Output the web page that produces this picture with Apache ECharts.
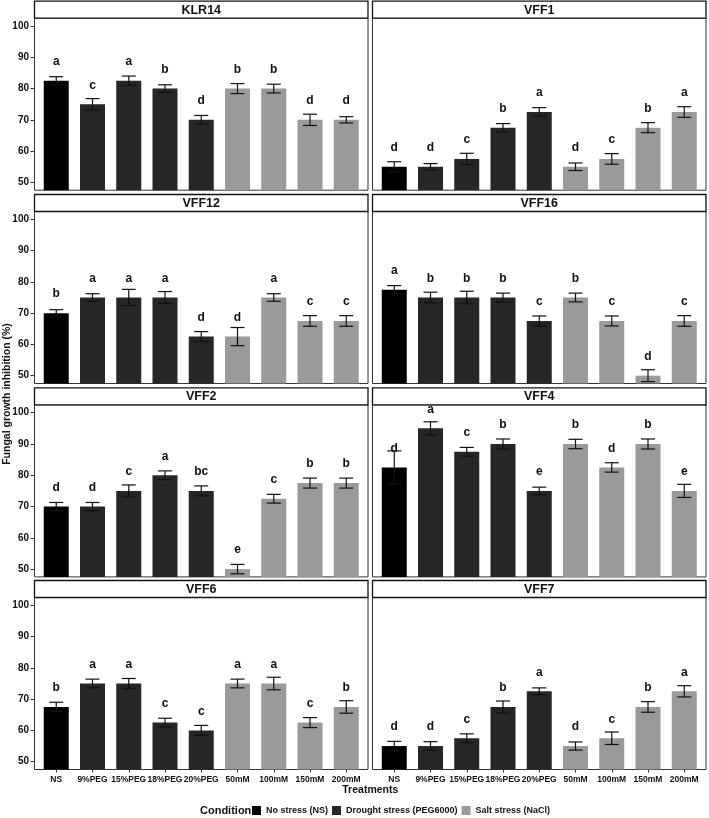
<!DOCTYPE html>
<html>
<head>
<meta charset="utf-8">
<script src="https://cdn.jsdelivr.net/npm/echarts@6/dist/echarts.min.js"></script>
<style>html,body{margin:0;padding:0;background:#fff}#c{width:709px;height:818px}</style>
</head>
<body>
<div id="c"></div>
<script>
// ---------- DATA ----------
const isolates = ['KLR14', 'VFF1', 'VFF12', 'VFF16', 'VFF2', 'VFF4', 'VFF6', 'VFF7'];
const treatments = ['NS', '9%PEG', '15%PEG', '18%PEG', '20%PEG', '50mM', '100mM', '150mM', '200mM'];
const conditions = ['No stress (NS)', 'Drought stress (PEG6000)', 'Salt stress (NaCl)'];
const treatmentCondition = [0, 1, 1, 1, 1, 2, 2, 2, 2];
const yTicks = [50, 60, 70, 80, 90, 100];

const meanKLR14 = [82.5, 75, 82.5, 80, 70, 80, 80, 70, 70];
const seKLR14   = [1.3, 1.8, 1.5, 1.2, 1.4, 1.6, 1.4, 1.8, 1.0];
const letKLR14  = ['a', 'c', 'a', 'b', 'd', 'b', 'b', 'd', 'd'];

const meanVFF1 = [55, 55, 57.5, 67.5, 72.5, 55, 57.5, 67.5, 72.5];
const seVFF1   = [1.6, 1.0, 1.8, 1.3, 1.4, 1.2, 1.7, 1.6, 1.7];
const letVFF1  = ['d', 'd', 'c', 'b', 'a', 'd', 'c', 'b', 'a'];

const meanVFF12 = [70, 75, 75, 75, 62.5, 62.5, 75, 67.5, 67.5];
const seVFF12   = [1.1, 1.2, 2.6, 1.9, 1.6, 2.9, 1.2, 1.7, 1.7];
const letVFF12  = ['b', 'a', 'a', 'a', 'd', 'd', 'a', 'c', 'c'];

const meanVFF16 = [77.5, 75, 75, 75, 67.5, 75, 67.5, 50, 67.5];
const seVFF16   = [1.3, 1.7, 2.0, 1.4, 1.6, 1.4, 1.6, 1.9, 1.7];
const letVFF16  = ['a', 'b', 'b', 'b', 'c', 'b', 'c', 'd', 'c'];

const meanVFF2 = [70, 70, 75, 80, 75, 50, 72.5, 77.5, 77.5];
const seVFF2   = [1.3, 1.3, 1.9, 1.4, 1.6, 1.5, 1.4, 1.6, 1.6];
const letVFF2  = ['d', 'd', 'c', 'a', 'bc', 'e', 'c', 'b', 'b'];

const meanVFF4 = [82.5, 95, 87.5, 90, 75, 90, 82.5, 90, 75];
const seVFF4   = [5.3, 2.1, 1.4, 1.6, 1.2, 1.5, 1.5, 1.6, 2.1];
const letVFF4  = ['d', 'a', 'c', 'b', 'e', 'b', 'd', 'b', 'e'];

const meanVFF6 = [67.5, 75, 75, 62.5, 60, 75, 75, 62.5, 67.5];
const seVFF6   = [1.5, 1.4, 1.6, 1.4, 1.6, 1.4, 2.0, 1.6, 2.0];
const letVFF6  = ['b', 'a', 'a', 'c', 'c', 'a', 'a', 'c', 'b'];

const meanVFF7 = [55, 55, 57.5, 67.5, 72.5, 55, 57.5, 67.5, 72.5];
const seVFF7   = [1.5, 1.4, 1.4, 1.9, 1.1, 1.3, 2.0, 1.7, 1.8];
const letVFF7  = ['d', 'd', 'c', 'b', 'a', 'd', 'c', 'b', 'a'];

const panelMeans = [meanKLR14, meanVFF1, meanVFF12, meanVFF16, meanVFF2, meanVFF4, meanVFF6, meanVFF7];
const panelSE = [seKLR14, seVFF1, seVFF12, seVFF16, seVFF2, seVFF4, seVFF6, seVFF7];
const panelLetters = [letKLR14, letVFF1, letVFF12, letVFF16, letVFF2, letVFF4, letVFF6, letVFF7];

// ---------- STYLE / LAYOUT ----------
const FONT = 'Liberation Sans, Arial, sans-serif';
const conditionColors = ['#000000', '#262626', '#9a9a9a'];
const colLeft = [34.5, 372.5];
const gridW = 333.5;
const rowTop = [18.2, 211.5, 404.9, 597.5];
const gridH = 172;
const stripH = 17;

const grids = [], xAxes = [], yAxes = [], series = [], graphics = [];

isolates.forEach((name, p) => {
  const row = Math.floor(p / 2), col = p % 2;
  const left = colLeft[col], top = rowTop[row];
  const bottomRow = row === 3;
  const leftCol = col === 0;
  grids.push({ left: left, top: top, width: gridW, height: gridH, show: true,
    borderColor: '#333', borderWidth: 1, backgroundColor: '#fff' });
  xAxes.push({
    gridIndex: p, type: 'value', min: -0.6, max: 8.6, position: 'bottom',
    axisLine: { show: false, onZero: false }, splitLine: { show: false },
    axisTick: { show: bottomRow, length: 3, lineStyle: { color: '#333' },
      customValues: treatments.map((t, i) => i) },
    axisLabel: { show: bottomRow, margin: 6, color: '#111', fontSize: 8.5, fontWeight: 'bold', fontFamily: FONT,
      customValues: treatments.map((t, i) => i), formatter: v => treatments[Math.round(v)] }
  });
  yAxes.push({
    gridIndex: p, type: 'value', min: 47.5, max: 102.5, position: 'left',
    axisLine: { show: false, onZero: false }, splitLine: { show: false },
    axisTick: { show: leftCol, length: 4, lineStyle: { color: '#333' }, customValues: yTicks },
    axisLabel: { show: leftCol, margin: 5.5, color: '#111', fontSize: 10, fontWeight: 'bold', fontFamily: FONT,
      customValues: yTicks }
  });
  const means = panelMeans[p], se = panelSE[p], letters = panelLetters[p];
  series.push({
    type: 'bar', xAxisIndex: p, yAxisIndex: p, barWidth: 25, z: 2,
    data: means.map((v, i) => ({ value: [i, v], itemStyle: { color: conditionColors[treatmentCondition[i]] } })),
    label: { show: true, position: 'top', distance: 13, color: '#111', fontSize: 12, fontWeight: 'bold', fontFamily: FONT,
      formatter: prm => letters[prm.dataIndex] },
    silent: true, animation: false
  });
  series.push({
    type: 'custom', xAxisIndex: p, yAxisIndex: p, z: 3, silent: true, animation: false,
    data: means.map((v, i) => [i, v - se[i], v + se[i]]),
    renderItem: (params, api) => {
      const x = api.value(0);
      const lo = api.coord([x, api.value(1)]);
      const hi = api.coord([x, api.value(2)]);
      const hw = 7;
      const st = { stroke: '#111', lineWidth: 1.2 };
      return { type: 'group', children: [
        { type: 'line', shape: { x1: lo[0], y1: lo[1], x2: hi[0], y2: hi[1] }, style: st },
        { type: 'line', shape: { x1: hi[0] - hw, y1: hi[1], x2: hi[0] + hw, y2: hi[1] }, style: st },
        { type: 'line', shape: { x1: lo[0] - hw, y1: lo[1], x2: lo[0] + hw, y2: lo[1] }, style: st }
      ]};
    }
  });
  // facet strip
  graphics.push({ type: 'rect', shape: { x: left, y: top - stripH, width: gridW, height: stripH },
    style: { fill: '#fff', stroke: '#111', lineWidth: 1.3 }, z: 10 });
  graphics.push({ type: 'text', x: left + gridW / 2, y: top - stripH / 2 + 0.5, z: 11,
    style: { text: name, align: 'center', verticalAlign: 'middle', fill: '#111',
      font: 'bold 12.5px ' + FONT } });
});

// dummy series for the legend
conditions.forEach((c, k) => {
  series.push({ type: 'line', name: c, xAxisIndex: 0, yAxisIndex: 0, data: [],
    color: conditionColors[k], itemStyle: { color: conditionColors[k] }, lineStyle: { color: conditionColors[k] } });
});

graphics.push({ type: 'text', x: 7, y: 394, rotation: Math.PI / 2,
  style: { text: 'Fungal growth inhibition (%)', align: 'center', verticalAlign: 'middle', fill: '#111',
    font: 'bold 10.5px ' + FONT } });
graphics.push({ type: 'text', x: 370.3, y: 790,
  style: { text: 'Treatments', align: 'center', verticalAlign: 'middle', fill: '#111',
    font: 'bold 10.5px ' + FONT } });
graphics.push({ type: 'text', x: 200, y: 810.5,
  style: { text: 'Condition', align: 'left', verticalAlign: 'middle', fill: '#111',
    font: 'bold 11px ' + FONT } });

const chart = echarts.init(document.getElementById('c'), null, { renderer: 'canvas' });
chart.setOption({
  backgroundColor: '#fff',
  animation: false,
  grid: grids, xAxis: xAxes, yAxis: yAxes, series: series,
  legend: { data: conditions, left: 252, top: 806, padding: 0, itemWidth: 9, itemHeight: 9, itemGap: 4, icon: 'rect',
    selectedMode: false,
    textStyle: { fontSize: 9, fontWeight: 'bold', color: '#111', fontFamily: FONT } },
  graphic: graphics
});
</script>
</body>
</html>
